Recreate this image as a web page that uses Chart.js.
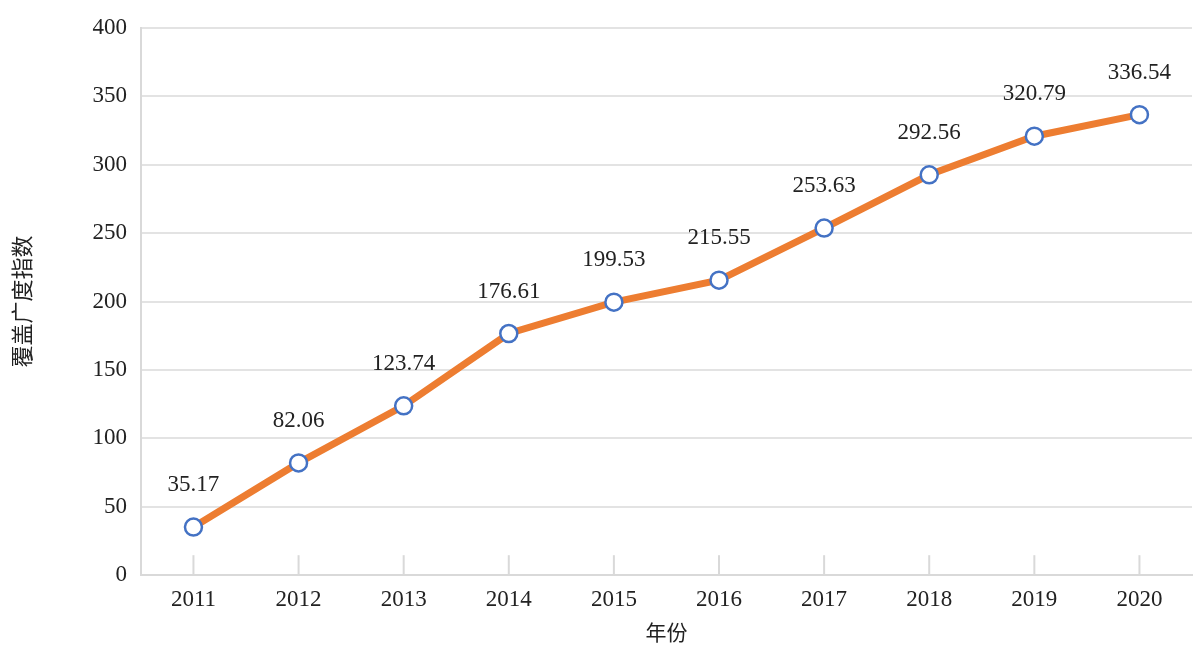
<!DOCTYPE html>
<html>
<head>
<meta charset="utf-8">
<script src="https://cdn.jsdelivr.net/npm/chart.js@4/dist/chart.umd.min.js"></script>
<style>
  html, body { margin: 0; padding: 0; background: #fff; }
  #wrap { width: 1203px; height: 645px; }
</style>
</head>
<body>
<div id="wrap"><canvas id="c"></canvas></div>
<script>
// values
const years = ['2011', '2012', '2013', '2014', '2015', '2016', '2017', '2018', '2019', '2020'];
const coverage = [35.17, 82.06, 123.74, 176.61, 199.53, 215.55, 253.63, 292.56, 320.79, 336.54];
const yTicks = [0, 50, 100, 150, 200, 250, 300, 350, 400];

const serif = '"Liberation Serif", "DejaVu Serif", serif';
const cjk = '"Noto Sans CJK SC", sans-serif';

// small category ticks pointing up from the x axis, and value labels
const extras = {
    id: 'extras',
    afterDatasetsDraw(chart) {
        const c = chart.ctx;
        const x = chart.scales.x;
        const bottom = chart.chartArea.bottom;
        c.save();
        c.strokeStyle = '#d9d9d9';
        c.lineWidth = 2;
        years.forEach((_, i) => {
            const px = x.getPixelForTick(i);
            c.beginPath();
            c.moveTo(px, bottom);
            c.lineTo(px, bottom - 20);
            c.stroke();
        });
        c.restore();
    },
    afterDraw(chart) {
        const c = chart.ctx;
        const meta = chart.getDatasetMeta(0);
        c.save();
        c.fillStyle = '#222';
        c.font = '23px ' + serif;
        c.textAlign = 'center';
        c.textBaseline = 'middle';
        meta.data.forEach((pt, i) => {
            c.fillText(coverage[i].toFixed(2), pt.x, pt.y - 42);
        });
        c.restore();
    }
};

new Chart(document.getElementById('c'), {
    type: 'line',
    data: {
        labels: years,
        datasets: [{
            data: coverage,
            borderColor: '#ed7d31',
            borderWidth: 7,
            pointRadius: 8.5,
            pointHoverRadius: 8.5,
            pointBorderWidth: 2.5,
            pointBackgroundColor: '#ffffff',
            pointBorderColor: '#4472c4',
            tension: 0
        }]
    },
    options: {
        responsive: true,
        maintainAspectRatio: false,
        animation: false,
        events: [],
        layout: { padding: { left: 4, right: 10, top: 4, bottom: 0 } },
        plugins: { legend: { display: false }, tooltip: { enabled: false } },
        scales: {
            x: {
                offset: true,
                grid: { display: false },
                border: { color: '#d9d9d9', width: 2 },
                ticks: { color: '#222', font: { family: serif, size: 23 }, padding: 3 },
                title: { display: true, text: '年份', color: '#222', font: { family: cjk, size: 21 }, padding: { top: 3, bottom: 0 } }
            },
            y: {
                min: 0,
                max: 400,
                afterBuildTicks(axis) { axis.ticks = yTicks.map(v => ({ value: v })); },
                grid: { color: '#e3e3e3', lineWidth: 2, drawTicks: false },
                border: { color: '#d9d9d9', width: 2 },
                ticks: { color: '#222', font: { family: serif, size: 23 }, padding: 14 },
                title: { display: true, text: '覆盖广度指数', color: '#222', font: { family: cjk, size: 22 }, padding: { bottom: 44 } }
            }
        }
    },
    plugins: [extras]
});
</script>
</body>
</html>
